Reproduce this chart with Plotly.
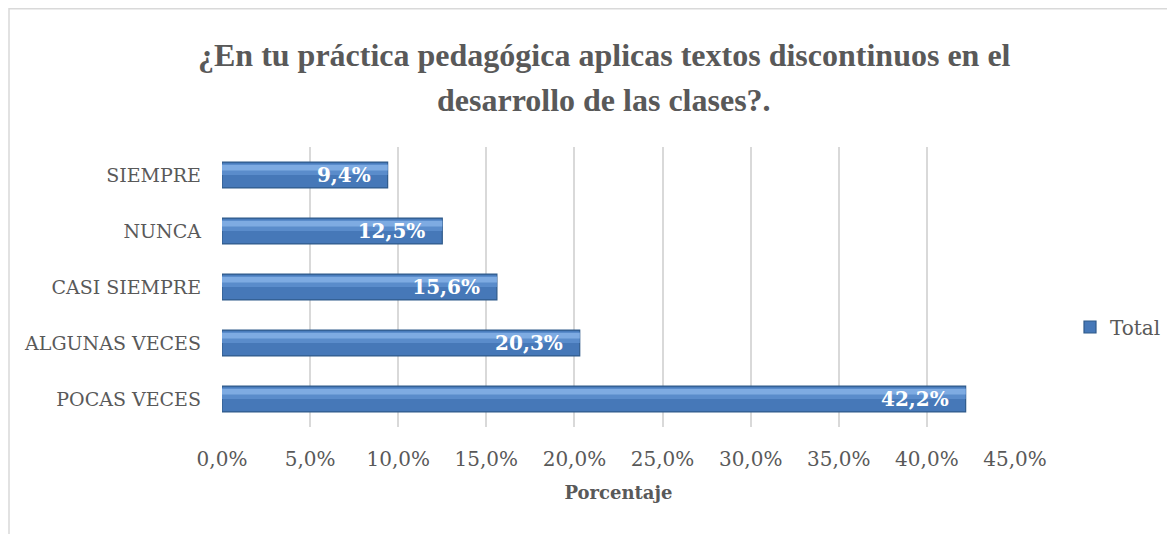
import plotly.graph_objects as go

# data
categories = ["POCAS VECES", "ALGUNAS VECES", "CASI SIEMPRE", "NUNCA", "SIEMPRE"]
values = [0.422, 0.203, 0.156, 0.125, 0.094]
tick_vals = [0, 0.05, 0.10, 0.15, 0.20, 0.25, 0.30, 0.35, 0.40, 0.45]
title_lines = ["¿En tu práctica pedagógica aplicas textos discontinuos en el",
               "desarrollo de las clases?."]

labels = [f"{v*100:.1f}%".replace(".", ",") + "\u00a0\u00a0" for v in values]

W, H = 1175, 534
OFF = 8  # body margin of the html page
L, T = 222 - OFF, 147 - OFF
R = W - (1015 - OFF)
B = H - (427 - OFF)
pw, ph = W - L - R, H - T - B

TITLE_FONT = "Liberation Serif, Tinos, serif"
BODY_FONT = "DejaVu Serif, serif"
BAR_W = 0.46

fig = go.Figure()
# main bar body
fig.add_trace(go.Bar(
    y=categories, x=values, orientation="h", name="Total",
    width=BAR_W, offset=-BAR_W / 2,
    marker=dict(color="#4678B8", line=dict(color="#2F5A8A", width=1.2)),
    hoverinfo="skip", showlegend=True,
))
# lighter bands near the top to hint at the bevel gradient
fig.add_trace(go.Bar(
    y=categories, x=values, orientation="h", name="hl1",
    width=0.2, offset=0.0,
    marker=dict(color="#5A8CCB", line=dict(width=0)),
    hoverinfo="skip", showlegend=False,
))
fig.add_trace(go.Bar(
    y=categories, x=values, orientation="h", name="hl2",
    width=0.1, offset=0.08,
    marker=dict(color="#7EABE2", line=dict(width=0)),
    hoverinfo="skip", showlegend=False,
))
# labels on top
fig.add_trace(go.Bar(
    y=categories, x=values, orientation="h", name="lbl",
    width=BAR_W, offset=-BAR_W / 2,
    text=labels, textposition="inside", insidetextanchor="end",
    constraintext="none",
    textfont=dict(family=BODY_FONT, size=20, color="white"),
    texttemplate="<b>%{text}</b>",
    marker=dict(color="rgba(0,0,0,0)", line=dict(width=0)),
    showlegend=False,
))

# outer chart border (left and top visible in the reference)
fig.add_shape(
    type="rect", xref="paper", yref="paper",
    x0=(9 - OFF - L) / pw, x1=(W + 10 - L) / pw,
    y0=-(H + 10 - (H - B)) / ph, y1=(H - B - 0.8) / ph,
    line=dict(color="#D9D9D9", width=1.5), fillcolor="rgba(0,0,0,0)",
    layer="below",
)

# title as two lines, to match the wide line spacing
for line, ypix in zip(title_lines, [55, 100]):
    fig.add_annotation(
        text=f"<b>{line}</b>", showarrow=False,
        xref="paper", yref="paper",
        x=(604 - OFF - L) / pw, xanchor="center",
        y=(H - B - (ypix - OFF)) / ph, yanchor="middle",
        font=dict(family=TITLE_FONT, size=32, color="#595959"),
    )

fig.update_layout(
    width=W, height=H,
    margin=dict(l=L, r=R, t=T, b=B, autoexpand=False),
    paper_bgcolor="white", plot_bgcolor="white",
    separators=",.",
    barmode="overlay",
    xaxis=dict(
        range=[0, 0.45], tickvals=tick_vals, tickformat=".1%",
        showgrid=True, gridcolor="#D9D9D9", gridwidth=1.5,
        zeroline=False, showline=False,
        ticklabelstandoff=18,
        tickfont=dict(family=BODY_FONT, size=20, color="#595959"),
        title=dict(text="<b>Porcentaje</b>", standoff=16,
                   font=dict(family=BODY_FONT, size=18, color="#595959")),
    ),
    yaxis=dict(
        showgrid=False, showline=False, zeroline=False,
        ticklabelstandoff=20,
        tickfont=dict(family=BODY_FONT, size=19, color="#595959"),
    ),
    legend=dict(
        xref="container", yref="container",
        x=(1070 - OFF) / W, xanchor="left", y=1 - (327 - OFF) / H, yanchor="middle",
        font=dict(family=BODY_FONT, size=20, color="#595959"),
        itemwidth=30,
    ),
)

fig.write_html("out.html")
